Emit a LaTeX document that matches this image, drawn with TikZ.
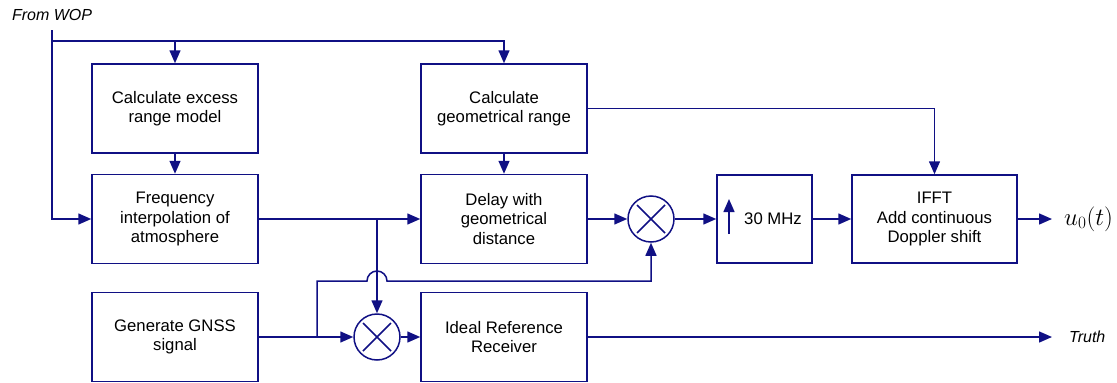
\documentclass[tikz,border=0pt]{standalone}
\usepackage{fontspec}
\setmainfont{Liberation Sans}
\usetikzlibrary{arrows.meta}
\definecolor{navy}{RGB}{16,16,132}
\tikzset{
  blk/.style={draw=navy, line width=1.5pt, minimum width=166pt, minimum height=89pt,
    align=center, inner sep=0pt, font=\fontsize{16.7}{19.5}\selectfont},
  mixer/.style={draw=navy, line width=1.5pt, circle, minimum size=46pt, inner sep=0pt},
  wire/.style={draw=navy, line width=1.5pt},
  flow/.style={wire, -{Triangle[length=13pt,width=11pt]}},
  lbl/.style={font=\fontsize{16}{19}\selectfont\itshape}
}

\begin{document}
\begin{tikzpicture}[x=1pt,y=-1pt]
		\useasboundingbox (0,0) rectangle (1117,383);
		
		% left column
		\node[blk] (excess) at (175,108.5) {Calculate excess\\range model};
		\node[blk] (freq) at (175,219) {Frequency\\interpolation of\\atmosphere};
		\node[blk] (gnss) at (175,337) {Generate GNSS\\signal};
		
		% middle column
		\node[blk] (geom) at (504,108.5) {Calculate\\geometrical range};
		\node[blk] (delay) at (504,219) {Delay with\\geometrical\\distance};
		\node[blk] (ideal) at (504,337) {Ideal Reference\\Receiver};
		
		% mixers
		\node[mixer] (mixa) at (651,219) {};
		\node[mixer] (mixb) at (377,337) {};
		\foreach \m in {mixa,mixb} {
			\draw[wire] ([shift={(-14pt,-14pt)}]\m.center) -- ([shift={(14pt,14pt)}]\m.center);
			\draw[wire] ([shift={(-14pt,14pt)}]\m.center) -- ([shift={(14pt,-14pt)}]\m.center);
		}
		
		% right part
		\node[blk, minimum width=95pt, minimum height=88pt] (up30) at (764.5,219) {};
		\node[font=\fontsize{16.7}{19.5}\selectfont] (mhz) at (773,219) {30 MHz};
		\draw[flow] ([shift={(-35.5pt,-15pt)}]up30.center) -- ([shift={(-35.5pt,20pt)}]up30.center);
		\node[blk, minimum width=165pt, minimum height=88pt] (ifft) at (934.5,219) {IFFT\\Add continuous\\Doppler shift};
		
		% labels
		\node[lbl] (wop) at (52,15) {From WOP};
		\node[anchor=west, inner sep=0pt, font=\fontsize{24.5}{28}\selectfont] (u0) at (1064,219) {$u_0(t)$};
		\node[lbl, anchor=west, inner sep=0pt] (truth) at (1069,337) {Truth};
		\coordinate (uend) at (1052,219);
		\coordinate (tend) at (1052,337);
		
		% input lines
		\coordinate (wopin) at (52,30);
		\coordinate (wtop) at (52,41);
		\draw[flow] (wopin) |- (freq.west);
		\draw[flow] (wtop) -| (geom.north);
		\draw[flow] (excess.north |- wtop) -- (excess.north);
		\draw[flow] (excess) -- (freq);
		\draw[flow] (geom) -- (delay);
		\draw[flow] (geom.east) -| (ifft.north);
		
		% signal path
		\coordinate (split) at (mixb.north |- freq.east);
		\coordinate (tap) at (317,337);
		\coordinate (hop) at (367,281);
		\draw[flow] (freq.east) -- (delay.west);
		\draw[flow] (split) -- (mixb.north);
		\draw[flow] (gnss.east) -- (mixb.west);
		\draw[flow] (tap) |- (hop) arc (180:0:10pt) -| (mixa.south);
		\draw[flow] (mixb.east) -- (ideal.west);
		\draw[flow] (ideal.east) -- (tend);
		\draw[flow] (delay.east) -- (mixa.west);
		\draw[flow] (mixa.east) -- (up30.west);
		\draw[flow] (up30.east) -- (ifft.west);
		\draw[flow] (ifft.east) -- (uend);
\end{tikzpicture}
\end{document}
